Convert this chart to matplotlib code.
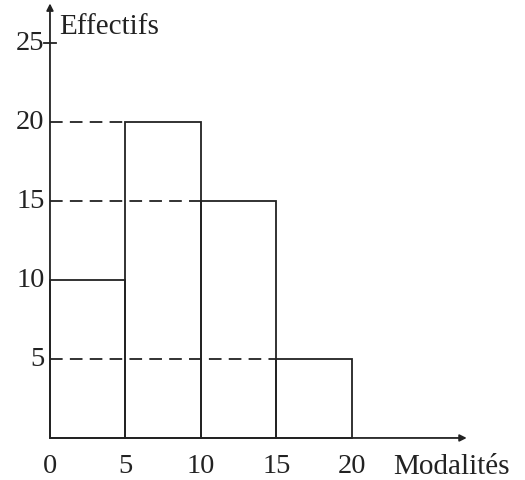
import matplotlib.pyplot as plt

# données de l'histogramme
bornes_gauche = [0, 5, 10, 15]
largeurs = [5, 5, 5, 5]
effectifs = [10, 20, 15, 5]
yticks = [5, 10, 15, 20, 25]
xticks = [0, 5, 10, 15, 20]

plt.rcParams['font.family'] = ['Liberation Serif', 'DejaVu Serif']
COL = '#222222'

fig = plt.figure(figsize=(5.25, 4.81), dpi=100)
ax = fig.add_axes([0, 0, 1, 1])
ax.set_xlim(-3.31, 31.46)
ax.set_ylim(-2.66, 27.78)
ax.axis('off')

# barres
ax.bar(bornes_gauche, effectifs, width=largeurs, align='edge',
       fill=False, edgecolor=COL, linewidth=1.3)

# pointillés vers l'axe des ordonnées
for x0, h in zip(bornes_gauche, effectifs):
    if x0 > 0:
        ax.plot([0, x0], [h, h], color=COL, linewidth=1.3,
                linestyle=(0, (7, 4)))

# axes avec flèches
ax.annotate('', xy=(27.6, 0), xytext=(0, 0),
            arrowprops=dict(arrowstyle='-|>', color=COL, lw=1.3,
                            mutation_scale=10, shrinkA=0, shrinkB=0))
ax.annotate('', xy=(0, 27.5), xytext=(0, 0),
            arrowprops=dict(arrowstyle='-|>', color=COL, lw=1.3,
                            mutation_scale=10, shrinkA=0, shrinkB=0))

# graduations
ax.plot([-0.4, 0.4], [25, 25], color=COL, linewidth=1.3)
for v in yticks:
    ax.text(-0.35, v, str(v), ha='right', va='center', fontsize=20.5, color=COL)
for v in xticks:
    ax.text(v, -1.75, str(v), ha='center', va='center', fontsize=20.5, color=COL)

ax.text(0.6, 26.1, 'Effectifs', ha='left', va='center', fontsize=21, color=COL)
ax.text(22.7, -1.75, 'Modalités', ha='left', va='center', fontsize=21, color=COL)

fig.savefig('out.png', dpi=100)
